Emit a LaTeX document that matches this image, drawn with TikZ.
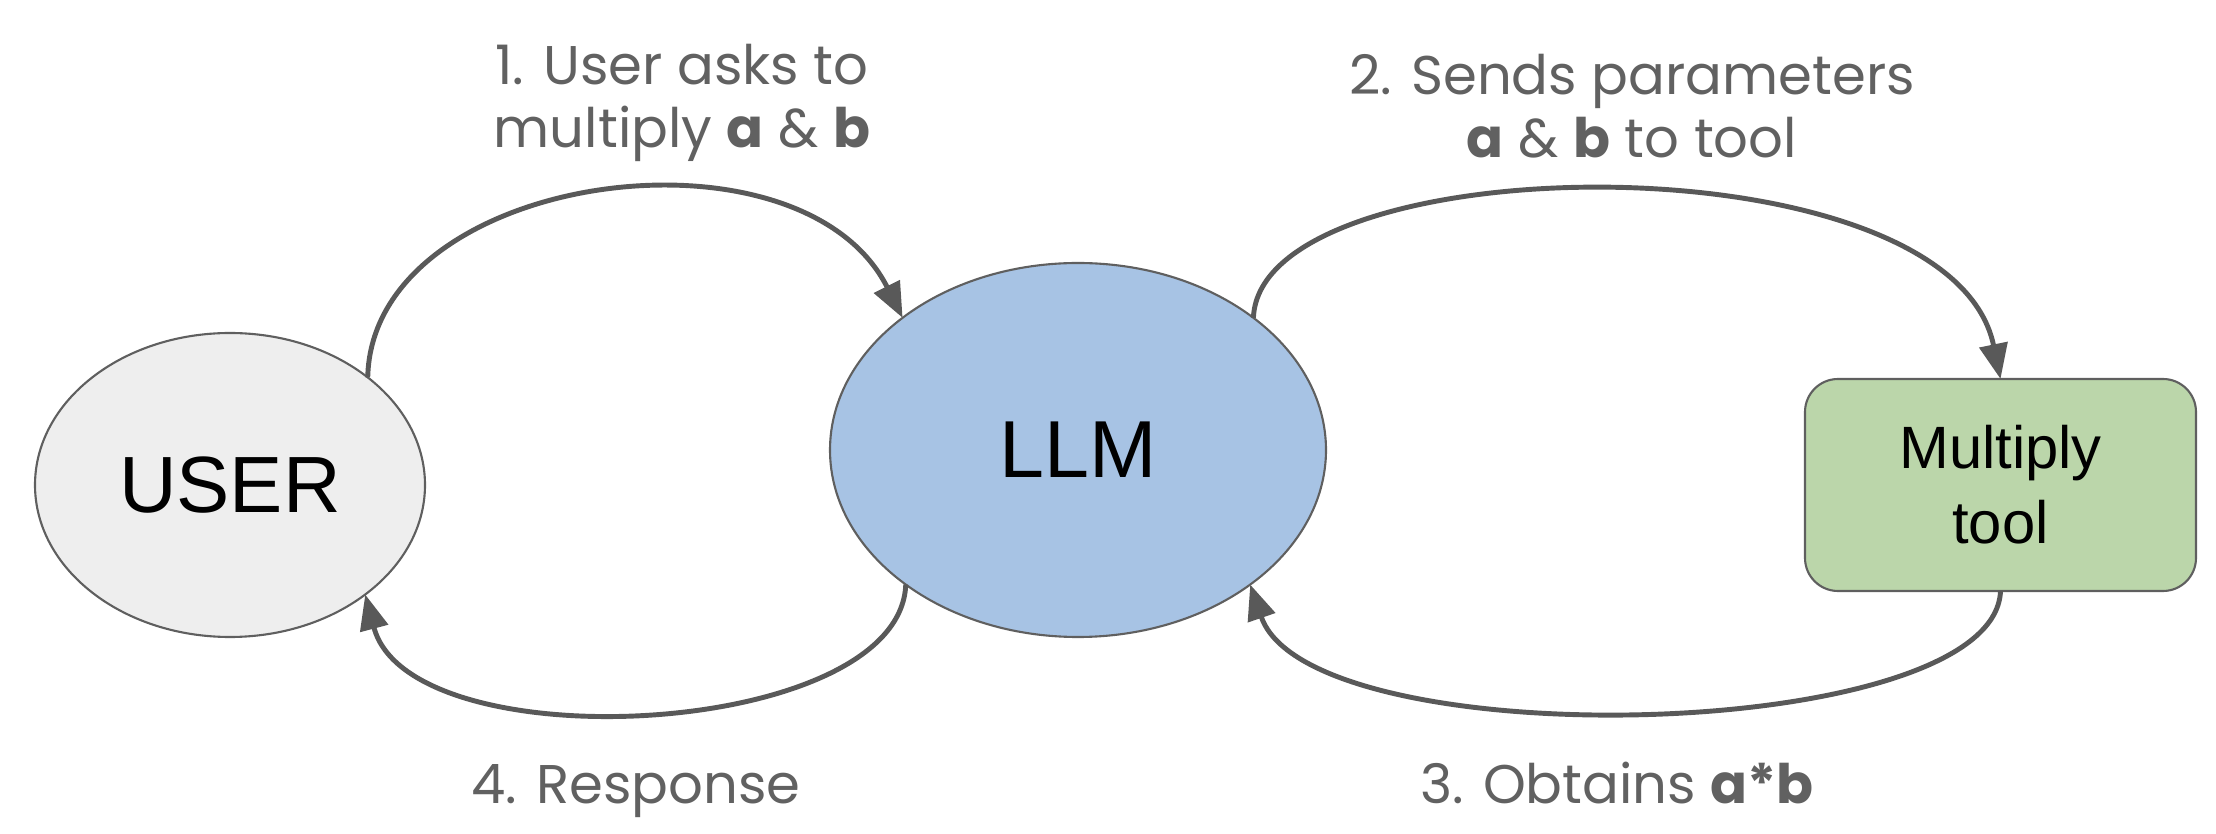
\documentclass[tikz,border=0pt]{standalone}
\usepackage{fontspec}
\setmainfont{Liberation Sans}
\newfontfamily\labfont{Poppins}
\usetikzlibrary{arrows.meta,shapes.geometric}
\definecolor{userfill}{HTML}{EEEEEE}
\definecolor{llmfill}{HTML}{A7C3E4}
\definecolor{toolfill}{HTML}{BBD6AA}
\definecolor{edgecol}{HTML}{5F5F5F}
\definecolor{arrowcol}{HTML}{595959}
\definecolor{labcol}{HTML}{616161}
\tikzset{
  ellnode/.style={ellipse, draw=edgecol, line width=0.6pt, inner sep=0pt, outer sep=0pt},
  toolnode/.style={rectangle, rounded corners=0.33cm, draw=edgecol, line width=0.6pt, fill=toolfill, inner sep=0pt, outer sep=0pt, minimum width=3.91cm, minimum height=2.12cm, align=center, font=\fontsize{17}{21.3}\selectfont},
  conn/.style={draw=arrowcol, line width=1.4pt, -{Triangle[length=10pt,width=8pt]}},
  lab/.style={anchor=base, text=labcol, inner sep=0pt, font=\labfont\fontsize{15.5}{18}\selectfont}
}
\begin{document}
\begin{tikzpicture}
\useasboundingbox (0,0) rectangle (22.16,8.34);
% nodes
\node[ellnode, fill=userfill, minimum width=3.90cm, minimum height=3.04cm, font=\fontsize{22.7}{26}\selectfont] (user) at (2.30,3.49) {USER};
\node[ellnode, fill=llmfill, minimum width=4.96cm, minimum height=3.74cm, font=\fontsize{23}{26}\selectfont] (llm) at (10.78,3.84) {LLM};
\node[toolnode] (tool) at (20.005,3.49) {Multiply\\tool};
% connectors
\draw[conn] (user.38) .. controls (3.72,6.62) and (8.0,7.2) .. (llm.143);
\draw[conn] (llm.37) .. controls (12.6,6.9) and (19.5,7.0) .. (tool.north);
\draw[conn] (tool.south) .. controls (19.95,0.9) and (13.1,0.75) .. (llm.322);
\draw[conn] (llm.218) .. controls (9.0,0.95) and (4.1,0.7) .. (user.321);
% labels
\node[lab] (lab1a) at (6.82,7.49) {1. User asks to};
\node[lab] (lab1b) at (6.82,6.86) {multiply \textbf{a} \& \textbf{b}};
\node[lab] (lab2a) at (16.32,7.39) {2. Sends parameters};
\node[lab] (lab2b) at (16.32,6.76) {\textbf{a} \& \textbf{b} to tool};
\node[lab] (lab3) at (16.17,0.31) {3. Obtains \textbf{a*b}};
\node[lab] (lab4) at (6.36,0.31) {4. Response};
\end{tikzpicture}
\end{document}
